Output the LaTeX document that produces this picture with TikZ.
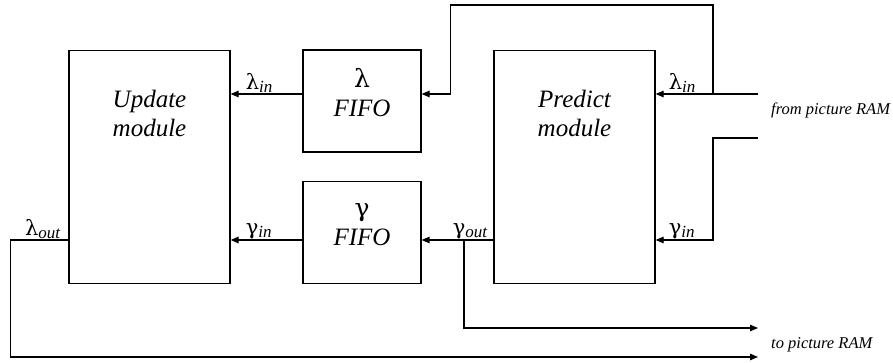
\documentclass[tikz,border=0pt]{standalone}
\usepackage{fontspec}
\setmainfont{Liberation Serif}
\newfontfamily\grk{DejaVu Serif}
\usetikzlibrary{positioning,arrows.meta}
\tikzset{
  wire/.style    = {line width=1.2pt},
  sig/.style     = {line width=1.2pt, -{Triangle[length=8pt,width=6.5pt]}},
  modbox/.style  = {draw, line width=1.2pt, minimum width=161pt,
                    minimum height=233pt, inner sep=0pt},
  fifobox/.style = {draw, line width=1.2pt, minimum width=118pt,
                    minimum height=102pt, inner sep=0pt},
  modtxt/.style  = {align=center, inner sep=0pt,
                    font=\fontsize{25}{29}\selectfont\itshape},
  lbl/.style     = {inner sep=1pt, font=\fontsize{21}{21}\selectfont},
  ramlbl/.style  = {inner sep=0pt, anchor=west,
                    font=\fontsize{16.5}{18}\selectfont\itshape},
}
\newcommand{\port}[2]{{\grk\upshape #1}\raisebox{-0.35ex}{\fontsize{17}{17}\selectfont\itshape #2}}

\begin{document}
\begin{tikzpicture}[x=1pt,y=1pt]
  \useasboundingbox (0,0) rectangle (893,363);
  \node[modbox]  (upd)   at (149.5,196) {};
  \node[modbox]  (pred)  at (574.5,196) {};
  \node[fifobox] (lfifo) at (362,262) {};
  \node[fifobox] (gfifo) at (362,130.5) {};
  \node[modtxt, below=40pt of upd.north]  {Update\\module};
  \node[modtxt, below=40pt of pred.north] {Predict\\module};
  \node[modtxt] at ([yshift=8pt]lfifo.center) {{\grk\upshape λ}\\FIFO};
  \node[modtxt] at ([yshift=8pt]gfifo.center) {{\grk\upshape γ}\\FIFO};
  % signal rows
  \coordinate (lrow) at (0,269);
  \coordinate (grow) at (0,123);
  \coordinate (lsrc) at (758,269);
  \coordinate (gsrc) at (758,225);
  \coordinate (ltap) at (713,269);
  \coordinate (gtap) at (464,123);
  \coordinate (gram) at (758,35);
  \coordinate (lram) at (758,6);
  \draw[sig] (lsrc) -- (pred.east |- lrow);
  \draw[sig] (ltap) -- ++(0,89) -| ([xshift=29pt]lfifo.east |- lrow) -- (lfifo.east |- lrow);
  \draw[sig] (gsrc) -| (ltap |- grow) -- (pred.east |- grow);
  \draw[sig] (pred.west |- grow) -- (gfifo.east |- grow);
  \draw[sig] (gtap) |- (gram);
  \draw[sig] (lfifo.west |- lrow) -- (upd.east |- lrow);
  \draw[sig] (gfifo.west |- grow) -- (upd.east |- grow);
  \draw[sig] (upd.west |- grow) -- ++(-58,0) |- (lram);
  % port labels
  \node[lbl, anchor=south west] (lin1)  at ([xshift=14pt]upd.east |- lrow)  {\port{λ}{in}};
  \node[lbl, anchor=south west] (gin1)  at ([xshift=14pt]upd.east |- grow)  {\port{γ}{in}};
  \node[lbl, anchor=south east] (lout)  at ([xshift=-7pt]upd.west |- grow)  {\port{λ}{out}};
  \node[lbl, anchor=south east] (gout)  at ([xshift=-5pt]pred.west |- grow) {\port{γ}{out}};
  \node[lbl, anchor=south west] (lin2)  at ([xshift=12pt]pred.east |- lrow) {\port{λ}{in}};
  \node[lbl, anchor=south west] (gin2)  at ([xshift=12pt]pred.east |- grow) {\port{γ}{in}};
  \node[ramlbl] (fromram) at (771,253) {from picture RAM};
  \node[ramlbl] (toram)   at (771,18)  {to picture RAM};
\end{tikzpicture}
\end{document}
